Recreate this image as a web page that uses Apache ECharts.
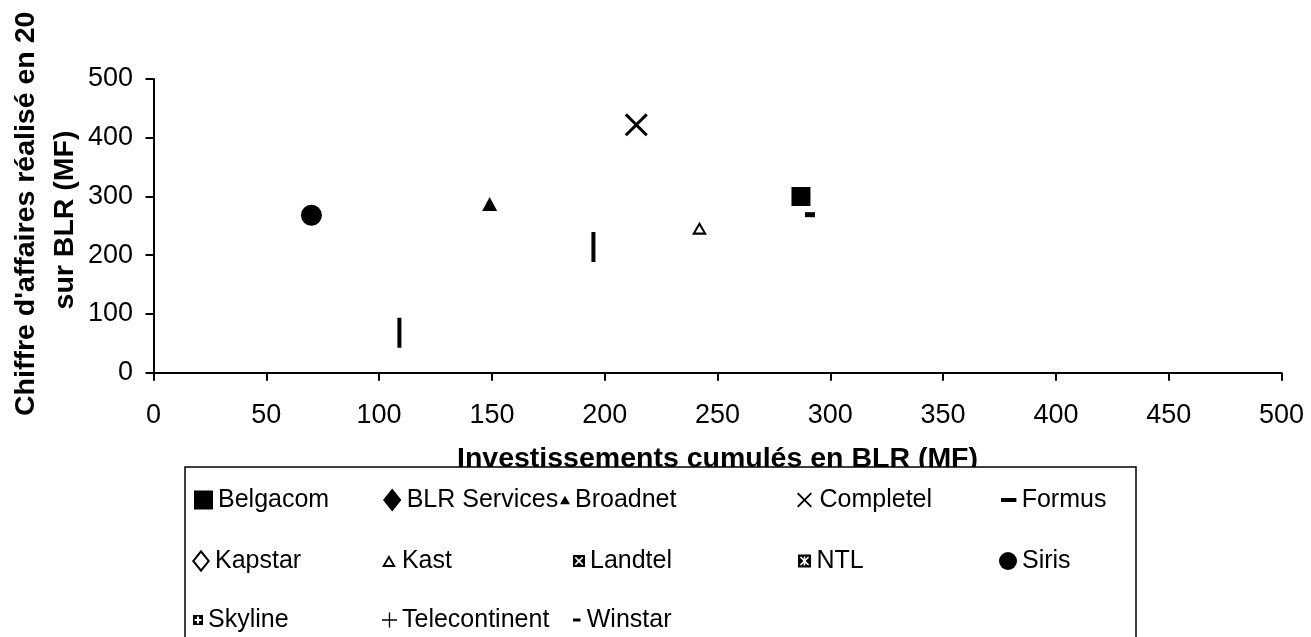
<!DOCTYPE html>
<html><head><meta charset="utf-8">
<script src="https://cdn.jsdelivr.net/npm/echarts@6/dist/echarts.min.js"></script>
<style>html,body{margin:0;padding:0;background:#fff}#c{width:1311px;height:637px}</style>
</head><body><div id="c"></div>
<script>
// ---- data ----
const seriesNames = ['Belgacom','BLR Services','Broadnet','Completel','Formus','Kapstar','Kast','Landtel','NTL','Siris','Skyline','Telecontinent','Winstar'];
const belgacom = [[287, 300]];
const blrServices = [];
const broadnet = [[149, 287]];
const completel = [[214, 422]];
const formus = [[291, 269]];
const kapstar = [];
const kast = [[242, 246]];
const landtel = [];
const ntl = [];
const siris = [[70, 268]];
const skyline = [];
const telecontinent = [[109, 68], [195, 214]];
const winstar = [];
const xMin = 0, xMax = 500, xStep = 50;
const yMin = 0, yMax = 500, yStep = 100;
const xTitle = 'Investissements cumulés en BLR (MF)';
const yTitle1 = "Chiffre d'affaires réalisé en 20";
const yTitle2 = 'sur BLR (MF)';

// ---- symbol shapes ----
const F = "'Liberation Sans', Arial, sans-serif";
function arms(list, w, cx, cy) {
  const pts = [];
  const n = list.length;
  for (let i = 0; i < n; i++) {
    const a = list[i][0] * Math.PI / 180, L = list[i][1];
    let b = list[(i + 1) % n][0] * Math.PI / 180;
    let gap = b - a; if (gap <= 0) gap += 2 * Math.PI;
    const ux = Math.cos(a), uy = Math.sin(a), px = -uy, py = ux;
    pts.push([cx + L * ux - w * px, cy + L * uy - w * py]);
    pts.push([cx + L * ux + w * px, cy + L * uy + w * py]);
    const mid = a + gap / 2, r = w / Math.sin(gap / 2);
    pts.push([cx + r * Math.cos(mid), cy + r * Math.sin(mid)]);
  }
  return pts;
}
function poly(pts) { return 'M' + pts.map(p => p[0].toFixed(2) + ',' + p[1].toFixed(2)).join('L') + 'Z'; }
const SQ = 'M0,0L100,0L100,100L0,100Z';
const xShape = (w, L) => arms([[45, L], [135, L], [225, L], [315, L]], w, 50, 50);
const plusShape = (w, L) => arms([[0, L], [90, L], [180, L], [270, L]], w, 50, 50);
const ICON = {
  square: 'path://' + SQ,
  diamond: 'path://M40,0L80,50L40,100L0,50Z',
  hollowDiamond: 'path://M40,0L80,50L40,100L0,50ZM40,14L11.2,50L40,86L68.8,50Z',
  triangle: 'path://M50,0L100,86.6L0,86.6Z',
  hollowTriangle: 'path://M50,0L100,86.6L0,86.6ZM50,27.7L24,72.7L76,72.7Z',
  cross: 'path://' + poly(xShape(6.5, 66)),
  plus: 'path://' + poly(plusShape(4.5, 50)),
  dashLong: 'path://M0,0L100,0L100,26L0,26Z',
  dashShort: 'path://M0,0L100,0L100,40L0,40Z',
  boxX: 'path://' + SQ + poly(xShape(7, 44).reverse()),
  boxStar: 'path://' + SQ + poly(arms([[45, 44], [90, 34], [135, 44], [225, 44], [270, 34], [315, 44]], 6, 50, 50).reverse()),
  boxPlus: 'path://' + SQ + poly(plusShape(11, 34).reverse()),
  circle: 'circle'
};

// ---- legend layout (icon left, row centre, icon box w/h) ----
const rowY = [500, 561, 620];
const legendLayout = {
  'Belgacom':      { icon: ICON.square,        left: 194, row: 0, w: 19, h: 20 },
  'BLR Services':  { icon: ICON.diamond,       left: 383, row: 0, w: 19, h: 23 },
  'Broadnet':      { icon: ICON.triangle,      left: 560, row: 0, w: 10, h: 12 },
  'Completel':     { icon: ICON.cross,         left: 797, row: 0, w: 20, h: 15 },
  'Formus':        { icon: ICON.dashLong,      left: 1001, row: 0, w: 16, h: 4 },
  'Kapstar':       { icon: ICON.hollowDiamond, left: 192, row: 1, w: 18, h: 23 },
  'Kast':          { icon: ICON.hollowTriangle,left: 382, row: 1, w: 16, h: 12 },
  'Landtel':       { icon: ICON.boxX,          left: 573, row: 1, w: 12, h: 12 },
  'NTL':           { icon: ICON.boxStar,       left: 798, row: 1, w: 14, h: 13 },
  'Siris':         { icon: ICON.circle,        left: 999, row: 1, w: 18, h: 18 },
  'Skyline':       { icon: ICON.boxPlus,       left: 193, row: 2, w: 10, h: 12 },
  'Telecontinent': { icon: ICON.plus,          left: 382, row: 2, w: 15, h: 15 },
  'Winstar':       { icon: ICON.dashShort,     left: 573, row: 2, w: 10, h: 3 }
};
const legends = seriesNames.map(name => {
  const L = legendLayout[name];
  const H = Math.max(L.h, 25);
  return {
    data: [{ name: name, icon: L.icon }],
    left: L.left, top: rowY[L.row] - H / 2,
    itemWidth: L.w, itemHeight: L.h,
    padding: 0, symbolKeepAspect: true, selectedMode: false,
    itemStyle: { color: '#000', borderWidth: 0 },
    textStyle: { fontSize: 25, fontFamily: F, color: '#000' },
    z: 5
  };
});

const seriesData = {
  'Belgacom': belgacom, 'BLR Services': blrServices, 'Broadnet': broadnet, 'Completel': completel,
  'Formus': formus, 'Kapstar': kapstar, 'Kast': kast, 'Landtel': landtel, 'NTL': ntl,
  'Siris': siris, 'Skyline': skyline, 'Telecontinent': telecontinent, 'Winstar': winstar
};
const seriesSymbol = {
  'Belgacom': ['rect', [19, 19]],
  'BLR Services': ['diamond', [19, 23]],
  'Broadnet': ['triangle', [15, 14]],
  'Completel': [ICON.cross, [23, 23]],
  'Formus': ['rect', [10, 5]],
  'Kapstar': [ICON.hollowDiamond, [18, 23]],
  'Kast': [ICON.hollowTriangle, [15, 13]],
  'Landtel': [ICON.boxX, [12, 12]],
  'NTL': [ICON.boxStar, [13, 13]],
  'Siris': ['circle', 21],
  'Skyline': [ICON.boxPlus, [11, 11]],
  'Telecontinent': ['rect', [4, 30]],
  'Winstar': ['rect', [7, 3]]
};
const series = seriesNames.map(name => ({
  type: 'scatter', name: name, data: seriesData[name],
  symbol: seriesSymbol[name][0], symbolSize: seriesSymbol[name][1],
  itemStyle: { color: '#000', opacity: 1 },
  emphasis: { disabled: true }
}));

const axisCommon = {
  axisLine: { show: true, lineStyle: { color: '#000', width: 2 } },
  axisTick: { show: true, inside: false, length: 8, lineStyle: { color: '#000', width: 2 } },
  splitLine: { show: false }
};

const chart = echarts.init(document.getElementById('c'), null, { renderer: 'canvas' });
chart.setOption({
  animation: false,
  backgroundColor: '#fff',
  grid: { left: 153.5, right: 29.5, top: 79, bottom: 264.3, containLabel: false },
  xAxis: Object.assign({
    type: 'value', min: xMin, max: xMax, interval: xStep,
    name: xTitle, nameLocation: 'middle', nameGap: 72,
    nameTextStyle: { fontSize: 28.5, fontWeight: 'bold', fontFamily: F, color: '#000' },
    axisLabel: { fontSize: 27, fontFamily: F, color: '#000', margin: 29 }
  }, axisCommon),
  yAxis: Object.assign({
    type: 'value', min: yMin, max: yMax, interval: yStep,
    axisLabel: { fontSize: 27, fontFamily: F, color: '#000', margin: 20.5 }
  }, axisCommon),
  legend: legends,
  graphic: [
    { type: 'rect', z: 3, shape: { x: 185, y: 467, width: 951, height: 200 },
      style: { fill: '#fff', stroke: '#000', lineWidth: 1.5 } },
    { type: 'text', z: 3, x: 26, y: 416, rotation: Math.PI / 2,
      style: { text: yTitle1, x: 0, y: 0, align: 'left', verticalAlign: 'middle',
               font: "bold 28.5px 'Liberation Sans', Arial, sans-serif", fill: '#000' } },
    { type: 'text', z: 3, x: 65, y: 220, rotation: Math.PI / 2,
      style: { text: yTitle2, x: 0, y: 0, align: 'center', verticalAlign: 'middle',
               font: "bold 28.5px 'Liberation Sans', Arial, sans-serif", fill: '#000' } }
  ],
  series: series
});
</script></body></html>
